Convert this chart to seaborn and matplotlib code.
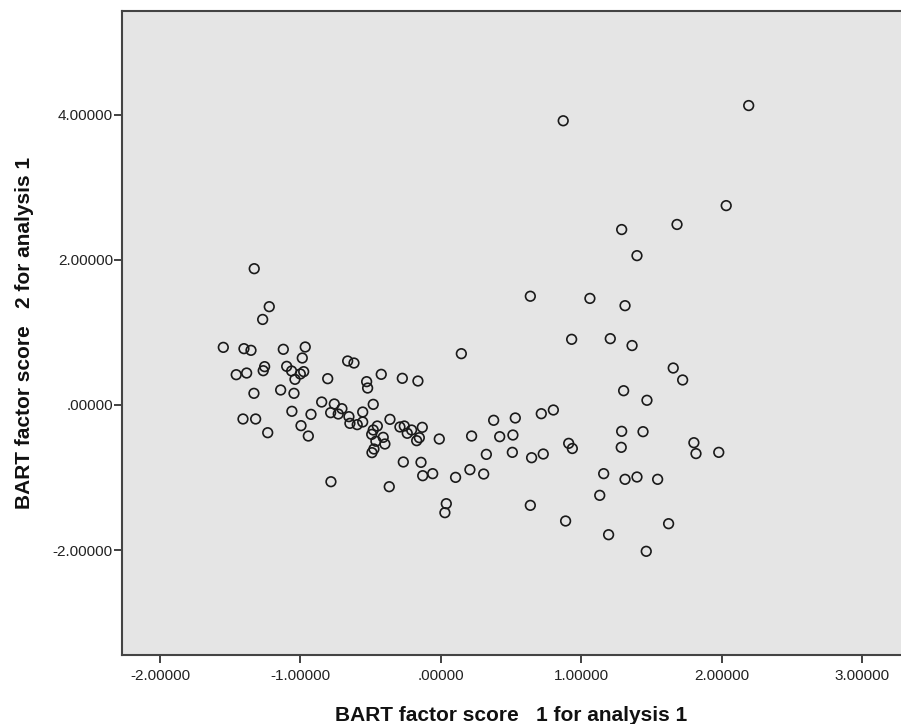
import matplotlib
matplotlib.use("Agg")
import matplotlib.pyplot as plt
import seaborn as sns
import pandas as pd

# BART factor score 1 (x) and 2 (y) for analysis 1
score1 = [0.870, 2.19, 2.03, 1.68, 1.286, 1.395, 0.636, 1.06, 1.31, 0.93,
          1.205, 1.36, 1.653, 1.72, 1.30, 1.466, 0.529, 0.714, 0.80, 0.418,
          0.512, 0.508, 0.645, 0.728, 0.909, 0.935, 1.286, 1.438, 1.283, 1.80,
          1.815, 1.977, 1.158, 1.31, 1.395, 1.542, 1.13, 0.636, 0.887, 1.62,
          1.193, 1.461,
          -1.329, -1.222, -1.269, -1.549, -1.402, -1.352, -1.122, -0.966, -0.987, -0.664,
          -0.619, 0.145, -1.255, -1.265, -1.457, -1.383, -1.098, -1.063, -1.039, -1.001,
          -0.977, -0.806, -0.529, -0.522, -0.425, -0.275, -0.164, -1.331, -1.141, -1.046,
          -0.849, -0.759, -0.705, -0.785, -0.731, -0.655, -0.648, -0.596, -0.557, -0.557,
          -0.482, -1.061, -0.925, -1.409, -1.319, -1.233, -0.996, -0.944, -0.453, -0.482,
          -0.493, -0.411, -0.463, -0.399, -0.477, -0.491, -0.363, -0.292, -0.261, -0.24,
          -0.209, -0.133, -0.154, -0.173, -0.012, 0.218, 0.375, 0.323, -0.268, -0.142,
          -0.13, -0.059, 0.104, 0.206, 0.304, -0.783, -0.368, 0.038, 0.028]
score2 = [3.92, 4.13, 2.75, 2.49, 2.42, 2.06, 1.50, 1.47, 1.37, 0.906,
          0.915, 0.82, 0.51, 0.345, 0.197, 0.065, -0.179, -0.12, -0.069, -0.437,
          -0.414, -0.653, -0.727, -0.676, -0.529, -0.60, -0.363, -0.368, -0.584, -0.52,
          -0.67, -0.653, -0.947, -1.025, -0.993, -1.025, -1.246, -1.384, -1.60, -1.637,
          -1.789, -2.018,
          1.88, 1.356, 1.18, 0.795, 0.777, 0.754, 0.768, 0.80, 0.648, 0.607,
          0.579, 0.708, 0.529, 0.473, 0.418, 0.441, 0.533, 0.469, 0.354, 0.428,
          0.46, 0.363, 0.322, 0.234, 0.423, 0.368, 0.331, 0.161, 0.207, 0.161,
          0.041, 0.014, -0.051, -0.106, -0.124, -0.161, -0.253, -0.271, -0.234, -0.097,
          0.009, -0.087, -0.129, -0.193, -0.193, -0.382, -0.285, -0.428, -0.29, -0.345,
          -0.405, -0.446, -0.50, -0.538, -0.607, -0.657, -0.198, -0.303, -0.29, -0.39,
          -0.345, -0.308, -0.451, -0.492, -0.469, -0.428, -0.211, -0.681, -0.786, -0.791,
          -0.975, -0.947, -0.998, -0.892, -0.952, -1.058, -1.127, -1.361, -1.485]

x_ticks = [-2, -1, 0, 1, 2, 3]
x_tick_labels = ["-2.00000", "-1.00000", ".00000", "1.00000", "2.00000", "3.00000"]
y_ticks = [-2, 0, 2, 4]
y_tick_labels = ["-2.00000", ".00000", "2.00000", "4.00000"]

df = pd.DataFrame({"s1": score1, "s2": score2})

sns.set_style("white")
plt.rcParams["font.family"] = ["Liberation Sans", "DejaVu Sans"]

fig = plt.figure(figsize=(9.01, 7.24), dpi=100)
ax = fig.add_axes([122 / 901, 69 / 724, 779 / 901, 644 / 724])
ax.set_facecolor("#e5e5e5")

sns.scatterplot(data=df, x="s1", y="s2", ax=ax, marker="o", s=48,
                facecolors="none", edgecolor="#1a1a1a", linewidth=1.2)
for c in ax.collections:
    c.set_facecolor("none")
    c.set_edgecolor("#1a1a1a")

ax.set_xlim(-2.270, 3.274)
ax.set_ylim(-3.448, 5.434)

ax.set_xticks(x_ticks)
ax.set_xticklabels(x_tick_labels)
ax.set_yticks(y_ticks)
ax.set_yticklabels(y_tick_labels)

for side in ["left", "bottom", "top"]:
    ax.spines[side].set_visible(True)
    ax.spines[side].set_color("#444444")
    ax.spines[side].set_linewidth(1.5)
ax.spines["right"].set_visible(False)

ax.tick_params(axis="both", direction="out", length=6, width=1.3,
               color="#333333", labelsize=11, labelcolor="#222222")
ax.tick_params(axis="x", pad=4, bottom=True)
ax.tick_params(axis="y", pad=0.5, left=True)

ax.set_xlabel("BART factor score   1 for analysis 1", fontsize=15,
              fontweight="bold", color="#111111")
ax.set_ylabel("BART factor score   2 for analysis 1", fontsize=15,
              fontweight="bold", color="#111111")
ax.xaxis.set_label_coords(0.5, -0.079)
ax.yaxis.set_label_coords(-0.113, 0.5)

fig.savefig("out.png", dpi=100)
